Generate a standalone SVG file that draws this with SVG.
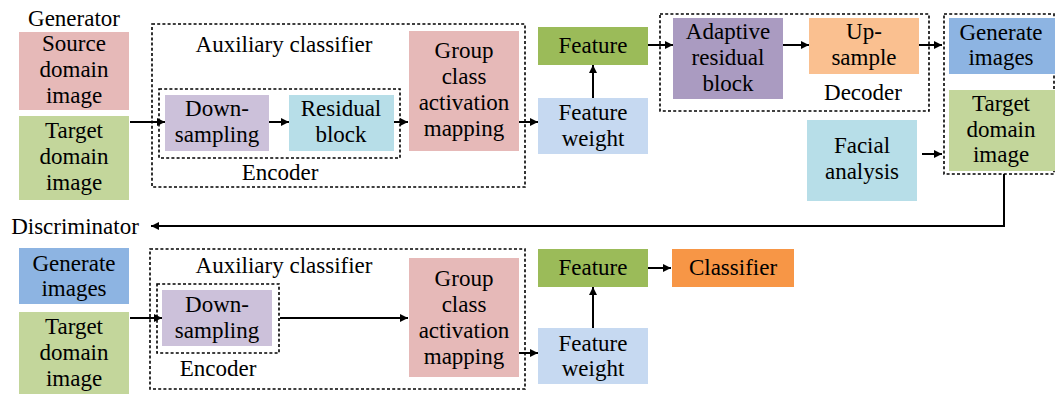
<svg xmlns="http://www.w3.org/2000/svg" width="1055" height="394" viewBox="0 0 1055 394">
<defs>
<marker id="ah" markerUnits="userSpaceOnUse" markerWidth="10" markerHeight="10" refX="9" refY="5" orient="auto">
<path d="M1,1 L9,5 L1,9 z" fill="#000"/>
</marker>
<style>
text{font-family:'Liberation Serif','Times New Roman','DejaVu Serif',serif;font-size:23px;fill:#000;text-anchor:middle}
.dash{fill:none;stroke:#000;stroke-width:1.6;stroke-dasharray:3,2.2}
.c line,.c polyline{stroke:#000;stroke-width:2;fill:none}
.a{marker-end:url(#ah)}
</style>
</defs>
<rect width="1055" height="394" fill="#fff"/>

<!-- dashed containers -->
<g id="gen-aux"><rect class="dash" x="152" y="24" width="373" height="163"/><text x="284" y="52">Auxiliary classifier</text></g>
<g id="gen-encoder"><rect class="dash" x="159" y="89" width="241" height="69"/><text x="280" y="180">Encoder</text></g>
<g id="decoder"><rect class="dash" x="660" y="14" width="269" height="97"/><text x="863" y="100">Decoder</text></g>
<g id="outputs"><rect class="dash" x="944" y="14" width="110" height="160"/></g>
<g id="dis-aux"><rect class="dash" x="150" y="249" width="375" height="140"/><text x="284" y="273">Auxiliary classifier</text></g>
<g id="dis-encoder"><rect class="dash" x="157" y="284" width="122" height="69"/><text x="218" y="376">Encoder</text></g>

<!-- generator -->
<g id="generator-label"><text x="74" y="26">Generator</text></g>
<g id="src"><rect x="19" y="32" width="110" height="78" fill="#e6b9b8"/><text x="74" y="51">Source</text><text x="74" y="77">domain</text><text x="74" y="103">image</text></g>
<g id="tgt1"><rect x="19" y="116" width="110" height="84" fill="#c3d69b"/><text x="74" y="138">Target</text><text x="74" y="164">domain</text><text x="74" y="190">image</text></g>
<g id="down1"><rect x="165" y="95" width="104" height="56" fill="#ccc1da"/><text x="217" y="116">Down-</text><text x="217" y="142">sampling</text></g>
<g id="res1"><rect x="289" y="95" width="105" height="56" fill="#b7dee8"/><text x="341" y="116">Residual</text><text x="341" y="142">block</text></g>
<g id="gcam1"><rect x="409" y="31" width="110" height="120" fill="#e6b9b8"/><text x="464" y="58">Group</text><text x="464" y="84">class</text><text x="464" y="110">activation</text><text x="464" y="136">mapping</text></g>
<g id="feat1"><rect x="538" y="27" width="110" height="38" fill="#9bbb59"/><text x="593" y="53">Feature</text></g>
<g id="fw1"><rect x="538" y="98" width="110" height="56" fill="#c6d9f1"/><text x="593" y="120">Feature</text><text x="593" y="146">weight</text></g>
<g id="arb"><rect x="673" y="18" width="110" height="81" fill="#aa9bc1"/><text x="728" y="39">Adaptive</text><text x="728" y="65">residual</text><text x="728" y="91">block</text></g>
<g id="up"><rect x="809" y="18" width="110" height="56" fill="#fac090"/><text x="864" y="39">Up-</text><text x="864" y="65">sample</text></g>
<g id="gen-img"><rect x="949" y="18" width="106" height="56" fill="#8db4e2"/><text x="1001" y="40">Generate</text><text x="1001" y="65">images</text></g>
<g id="tgt2"><rect x="949" y="90" width="106" height="81" fill="#c3d69b"/><text x="1001" y="111">Target</text><text x="1001" y="137">domain</text><text x="1001" y="162">image</text></g>
<g id="facial"><rect x="807" y="120" width="110" height="81" fill="#b7dee8"/><text x="862" y="153">Facial</text><text x="862" y="179">analysis</text></g>

<!-- discriminator -->
<g id="discriminator-label"><text x="75" y="234">Discriminator</text></g>
<g id="gen-img2"><rect x="19" y="248" width="110" height="56" fill="#8db4e2"/><text x="74" y="271">Generate</text><text x="74" y="296">images</text></g>
<g id="tgt3"><rect x="19" y="312" width="110" height="82" fill="#c3d69b"/><text x="74" y="334">Target</text><text x="74" y="360">domain</text><text x="74" y="386">image</text></g>
<g id="down2"><rect x="162" y="290" width="110" height="56" fill="#ccc1da"/><text x="217" y="312">Down-</text><text x="217" y="338">sampling</text></g>
<g id="gcam2"><rect x="409" y="258" width="110" height="119" fill="#e6b9b8"/><text x="464" y="286">Group</text><text x="464" y="312">class</text><text x="464" y="338">activation</text><text x="464" y="364">mapping</text></g>
<g id="feat2"><rect x="538" y="249" width="110" height="38" fill="#9bbb59"/><text x="593" y="275">Feature</text></g>
<g id="fw2"><rect x="538" y="328" width="110" height="56" fill="#c6d9f1"/><text x="593" y="351">Feature</text><text x="593" y="376">weight</text></g>
<g id="cls"><rect x="672" y="249" width="122" height="38" fill="#f79646"/><text x="733" y="275">Classifier</text></g>

<!-- connectors -->
<g id="connectors" class="c">
<line class="a" x1="130" y1="122" x2="165" y2="122"/>
<line class="a" x1="269" y1="122" x2="289" y2="122"/>
<line class="a" x1="394" y1="122" x2="408" y2="122"/>
<line class="a" x1="519" y1="122" x2="538" y2="122"/>
<line class="a" x1="593" y1="98" x2="593" y2="65"/>
<line class="a" x1="648" y1="45" x2="673" y2="45"/>
<line class="a" x1="783" y1="45" x2="809" y2="45"/>
<line class="a" x1="919" y1="45" x2="942" y2="45"/>
<line class="a" x1="922" y1="154" x2="942" y2="154"/>
<polyline class="a" points="1004,174 1004,226 151,226"/>
<line class="a" x1="130" y1="318" x2="162" y2="318"/>
<line class="a" x1="280" y1="318" x2="408" y2="318"/>
<line class="a" x1="519" y1="353" x2="538" y2="353"/>
<line class="a" x1="593" y1="328" x2="593" y2="287"/>
<line class="a" x1="648" y1="268" x2="671" y2="268"/>
</g>
</svg>
